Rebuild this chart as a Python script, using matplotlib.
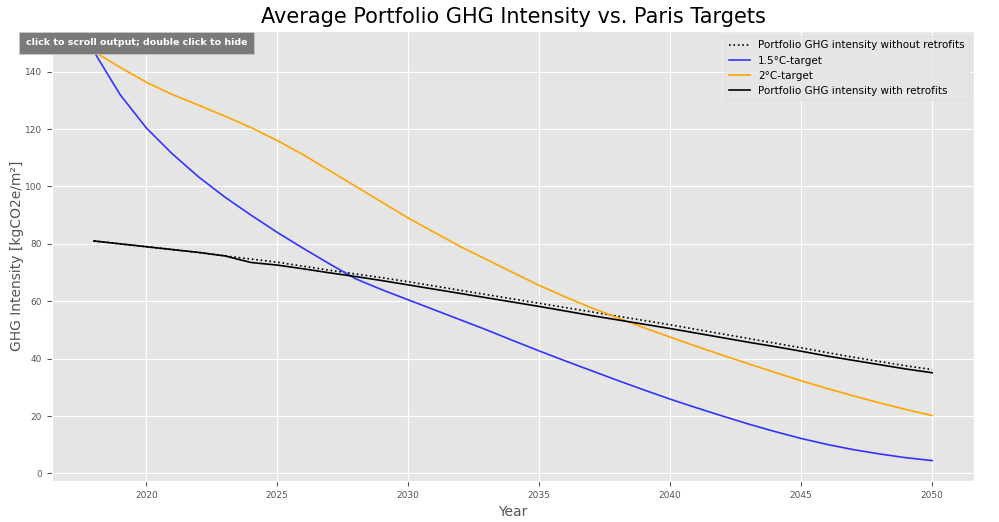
import matplotlib.pyplot as plt

plt.style.use('ggplot')

years = list(range(2018, 2051))

no_retrofit = [81.0, 80.0, 79.0, 78.0, 77.0, 75.8, 74.7, 73.6, 72.2, 70.8, 69.5,
               68.2, 66.8, 65.3, 63.8, 62.3, 60.8, 59.3, 57.8, 56.3, 54.8, 53.3,
               51.8, 50.2, 48.6, 47.0, 45.4, 43.8, 42.1, 40.5, 39.0, 37.5, 36.2]
target_15 = [147.0, 132.0, 120.4, 111.3, 103.3, 96.3, 90.0, 84.0, 78.4, 73.0, 67.8,
             64.0, 60.5, 57.0, 53.5, 50.0, 46.3, 42.7, 39.2, 35.8, 32.4, 29.1,
             25.9, 22.9, 20.0, 17.2, 14.6, 12.2, 10.1, 8.3, 6.8, 5.5, 4.5]
target_2 = [147.0, 141.5, 136.3, 132.0, 128.3, 124.5, 120.5, 116.0, 111.0, 105.5, 100.0,
            94.5, 89.0, 84.0, 79.0, 74.5, 70.0, 65.5, 61.5, 57.7, 54.2, 50.8,
            47.5, 44.3, 41.2, 38.2, 35.2, 32.3, 29.6, 27.0, 24.6, 22.3, 20.2]
with_retrofit = [81.0, 80.0, 79.0, 78.0, 77.0, 75.8, 73.5, 72.6, 71.3, 69.9, 68.6,
                 67.2, 65.7, 64.2, 62.7, 61.2, 59.7, 58.2, 56.6, 55.0, 53.5, 52.0,
                 50.5, 48.9, 47.3, 45.7, 44.2, 42.6, 40.9, 39.4, 37.9, 36.4, 35.1]

fig = plt.figure(figsize=(9.99, 5.22), dpi=100)
fig.patch.set_facecolor('white')
ax = fig.add_axes([0.052, 0.0785, 0.923, 0.862])

ax.plot(years, no_retrofit, color='black', linestyle=':', linewidth=1.2,
        label='Portfolio GHG intensity without retrofits')
ax.plot(years, target_15, color='#3333ff', linewidth=1.2, label='1.5°C-target')
ax.plot(years, target_2, color='orange', linewidth=1.2, label='2°C-target')
ax.plot(years, with_retrofit, color='black', linewidth=1.2,
        label='Portfolio GHG intensity with retrofits')

ax.set_title('Average Portfolio GHG Intensity vs. Paris Targets', fontsize=15, color='black')
ax.set_xlabel('Year', fontsize=10)
ax.set_ylabel('GHG Intensity [kgCO2e/m²]', fontsize=10, labelpad=1)
ax.tick_params(labelsize=6.5)
leg = ax.legend(loc='upper right', fontsize=7.5, facecolor='#e5e5e5', edgecolor='#d8d8d8')

fig.text(0.026, 0.918, 'click to scroll output; double click to hide', fontsize=6.8,
         color='white', fontweight='bold', va='center',
         bbox=dict(boxstyle='square,pad=0.7', facecolor='#7a7a7a', edgecolor='#cccccc'))

plt.savefig('out.png', dpi=100)
